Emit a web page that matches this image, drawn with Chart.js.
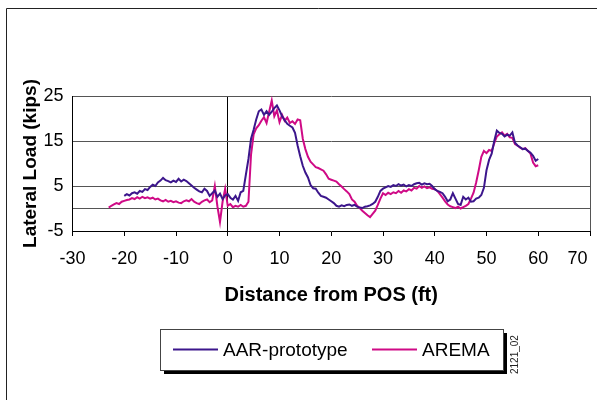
<!DOCTYPE html>
<html>
<head>
<meta charset="utf-8">
<script src="https://cdn.jsdelivr.net/npm/chart.js@4.4.0/dist/chart.umd.min.js"></script>
<style>
    html, body { margin: 0; padding: 0; background: #fff; overflow: hidden; }
</style>
</head>
<body>
<canvas id="lateralChart" width="630" height="400"></canvas>
<script>
// ===========================
// Data
// ===========================

// distance from POS, ft
const distance = [
    -23, -22.5, -22, -21.5, -21, -20.5, -20, -19.5, -19, -18.5,
    -18, -17.5, -17, -16.5, -16, -15.5, -15, -14.5, -14, -13.5,
    -13, -12.5, -12, -11.5, -11, -10.5, -10, -9.5, -9, -8.5,
    -8, -7.5, -7, -6.5, -6, -5.5, -5, -4.5, -4, -3.5,
    -3, -2.5, -2, -1.5, -1, -0.5, 0, 0.5, 1, 1.5,
    2, 2.5, 3, 3.5, 4, 4.5, 5, 5.5, 6, 6.5,
    7, 7.5, 8, 8.5, 9, 9.5, 10, 10.5, 11, 11.5,
    12, 12.5, 13, 13.5, 14, 14.5, 15, 15.5, 16, 16.5,
    17, 17.5, 18, 18.5, 19, 19.5, 20, 20.5, 21, 21.5,
    22, 22.5, 23, 23.5, 24, 24.5, 25, 25.5, 26, 26.5,
    27, 27.5, 28, 28.5, 29, 29.5, 30, 30.5, 31, 31.5,
    32, 32.5, 33, 33.5, 34, 34.5, 35, 35.5, 36, 36.5,
    37, 37.5, 38, 38.5, 39, 39.5, 40, 40.5, 41, 41.5,
    42, 42.5, 43, 43.5, 44, 44.5, 45, 45.5, 46, 46.5,
    47, 47.5, 48, 48.5, 49, 49.5, 50, 50.5, 51, 51.5,
    52, 52.5, 53, 53.5, 54, 54.5, 55, 55.5, 56, 56.5,
    57, 57.5, 58, 58.5, 59, 59.5, 60
];

// lateral load, kips
const aarLoad = [
    null, null, null, null, null, null, 2.8, 3.2, 2.9, 3.4,
    3.6, 3.3, 3.9, 3.7, 4.3, 4.1, 4.8, 5.3, 5.0, 5.8,
    6.2, 6.8, 6.3, 6.1, 5.8, 6.2, 5.9, 6.6, 6.0, 6.4,
    6.1, 5.6, 5.1, 4.6, 4.2, 3.8, 3.6, 4.4, 3.9, 2.8,
    3.4, 4.0, 2.6, 3.3, 2.1, 2.9, 3.2, 2.4, 2.0, 2.8,
    1.7, 3.6, 3.9, 7.5, 11.0, 15.5, 17.5, 19.8, 21.6, 22.0,
    20.8, 21.6, 20.8, 21.5, 22.3, 22.9, 21.8, 20.5, 19.6, 18.8,
    18.4, 18.0, 16.8, 14.0, 11.6, 9.5, 8.0, 6.9, 5.2, 4.5,
    4.4, 3.5, 2.8, 2.6, 2.4, 2.0, 1.6, 1.2, 0.6, 0.4,
    0.7, 0.5, 0.8, 0.9, 0.6, 0.8, 0.4, 0.2, 0.1, 0.4,
    0.5, 0.7, 1.0, 1.5, 2.6, 3.9, 4.4, 4.7, 5.0, 4.8,
    5.2, 5.0, 5.4, 5.1, 5.3, 4.9, 5.2, 5.0, 5.4, 5.6,
    5.7, 5.3, 5.6, 5.4, 5.5, 5.0, 4.3, 3.9, 3.7, 3.4,
    2.6, 1.6, 2.0, 3.4, 2.2, 1.0, 0.8, 2.6, 2.0, 2.4,
    1.5, 1.6, 2.2, 2.4, 3.0, 4.6, 8.5, 10.8, 12.2, 15.0,
    17.3, 16.8, 16.6, 16.0, 16.4, 16.2, 16.9, 14.6, 14.0, 13.6,
    13.2, 13.3, 12.8, 12.4, 11.7, 10.6, 11.0
];

const aremaLoad = [
    0.2, 0.6, 0.9, 1.2, 1.0, 1.5, 1.7, 1.9, 2.0, 2.3,
    2.1, 2.5, 2.2, 2.6, 2.3, 2.5, 2.2, 2.4, 2.0, 2.2,
    1.8, 1.6, 1.9, 1.5, 1.7, 1.4, 1.6, 1.3, 1.2, 1.6,
    1.8, 1.6, 2.1, 1.5, 1.2, 1.0, 1.5, 1.8, 2.0, 1.4,
    1.8, 5.0, 0.5, -3.0, 1.5, 4.4, 0.6, 1.0, 0.3, 0.6,
    0.4, 0.8, 0.4, 0.6, 1.5, 12.0, 16.5, 17.8, 18.5, 19.5,
    20.3, 19.0, 21.5, 24.0, 20.5, 21.8, 19.2, 20.8, 19.5, 20.2,
    19.0, 19.4, 18.8, 19.8, 19.6, 15.5, 13.2, 11.5, 10.4, 9.8,
    9.2, 9.0, 8.7, 8.4, 7.6, 6.6, 6.4, 6.2, 6.0, 5.4,
    4.9, 4.3, 3.8, 3.2, 2.0, 1.5, 0.6, 0.1, -0.5, -1.0,
    -1.5, -1.9, -1.2, -0.5, 0.8, 2.2, 3.4, 3.0, 3.5, 3.2,
    3.6, 3.4, 3.9, 3.5, 4.0, 3.8, 4.3, 4.0, 4.6, 4.4,
    5.0, 4.6, 4.9, 4.5, 4.7, 4.4, 4.3, 3.9, 3.2, 2.4,
    1.6, 0.9, 0.5, 0.3, 0.1, 0.4, 0.0, 0.3, 0.6, 1.0,
    2.2, 3.5, 5.8, 8.5, 11.5, 12.8, 12.3, 13.0, 12.8, 14.5,
    16.0, 16.5, 16.9, 16.2, 16.6, 15.8, 15.7, 14.3, 14.0, 13.5,
    13.2, 13.4, 12.8, 12.2, 10.2, 9.4, 9.6
];

const seriesNames = ['AAR-prototype', 'AREMA'];
const xTicks = [-30, -20, -10, 0, 10, 20, 30, 40, 50, 60, 70];
const yTicks = [-5, 5, 15, 25];

const PURPLE = '#3c168c';
const MAGENTA = '#cf0a86';
const GRID = '#555555';

Chart.defaults.font.family = 'Arial, "Liberation Sans", sans-serif';
Chart.defaults.color = '#000';

// page frame, boxed legend with drop shadow, figure id
const chartDecor = {
    id: 'chartDecor',
    afterDraw(chart) {
        const c = chart.ctx;
        c.save();

        c.strokeStyle = '#222';
        c.lineWidth = 1;
        c.beginPath();
        c.moveTo(6.5, 400);
        c.lineTo(6.5, 8.5);
        c.lineTo(630, 8.5);
        c.stroke();

        const bx = 160, by = 329, bw = 343, bh = 41;
        c.fillStyle = '#000';
        c.fillRect(bx + 4, by + 4, bw, bh);
        c.fillStyle = '#fff';
        c.fillRect(bx, by, bw, bh);
        c.strokeStyle = '#444';
        c.strokeRect(bx + 0.5, by + 0.5, bw, bh);

        const entries = [
            { x1: 173, x2: 218, tx: 223 },
            { x1: 372, x2: 417, tx: 422 }
        ];
        const ly = 349.5;
        c.font = '19px Arial, "Liberation Sans", sans-serif';
        c.textBaseline = 'middle';
        c.textAlign = 'left';
        chart.data.datasets.forEach((ds, i) => {
            const e = entries[i];
            c.strokeStyle = ds.borderColor;
            c.lineWidth = 2;
            c.beginPath();
            c.moveTo(e.x1, ly);
            c.lineTo(e.x2, ly);
            c.stroke();
            c.fillStyle = '#000';
            c.fillText(ds.label, e.tx, ly + 1);
        });

        c.translate(515, 374);
        c.rotate(-Math.PI / 2);
        c.font = '10px Arial, "Liberation Sans", sans-serif';
        c.fillStyle = '#222';
        c.textBaseline = 'middle';
        c.fillText('2121_02', 0, 0);

        c.restore();
    }
};

const ctx = document.getElementById('lateralChart');

new Chart(ctx, {
    type: 'line',
    data: {
        datasets: [
            {
                label: seriesNames[0],
                data: distance.map((d, i) => ({ x: d, y: aarLoad[i] })),
                borderColor: PURPLE,
                borderWidth: 2,
                pointRadius: 0,
                tension: 0
            },
            {
                label: seriesNames[1],
                data: distance.map((d, i) => ({ x: d, y: aremaLoad[i] })),
                borderColor: MAGENTA,
                borderWidth: 2,
                pointRadius: 0,
                tension: 0
            }
        ]
    },
    options: {
        responsive: false,
        animation: false,
        layout: {
            autoPadding: false,
            // canvas is wider than the 597px window; right edge of plot lands at x=590
            padding: { left: 19, right: 40, top: 96, bottom: 92.6 }
        },
        plugins: {
            legend: { display: false },
            tooltip: { enabled: false }
        },
        scales: {
            x: {
                type: 'linear',
                min: -30,
                max: 70,
                afterBuildTicks: (s) => { s.ticks = xTicks.map(v => ({ value: v })); },
                afterFit: (s) => { s.height = 76.4; },
                border: { color: '#000', width: 1 },
                grid: {
                    color: (c) => {
                        const v = c.tick ? c.tick.value : null;
                        if (v === 0) return '#000';
                        if (v === 70) return GRID;
                        return 'rgba(0,0,0,0)';
                    },
                    tickColor: '#000',
                    tickLength: 5,
                    drawTicks: true
                },
                ticks: {
                    padding: 12,
                    maxRotation: 0,
                    autoSkip: false,
                    font: { size: 18 },
                    // last label sits left of its tick, as in the original
                    callback: (v) => v === 70 ? '70     ' : String(v)
                },
                title: {
                    display: true,
                    text: 'Distance from POS (ft)',
                    font: { size: 20, weight: 'bold' },
                    padding: 0
                }
            },
            y: {
                min: -5,
                max: 25,
                afterBuildTicks: (s) => {
                    s.ticks = [...yTicks, 0].sort((a, b) => a - b).map(v => ({ value: v }));
                },
                afterFit: (s) => { s.width = 53.5; },
                border: { color: '#000', width: 1 },
                grid: {
                    color: (c) => (c.tick && c.tick.value === -5) ? 'rgba(0,0,0,0)' : GRID,
                    drawTicks: false
                },
                ticks: {
                    padding: 9,
                    autoSkip: false,
                    font: { size: 18 },
                    callback: (v) => v === 0 ? '' : String(v)
                },
                title: {
                    display: true,
                    text: 'Lateral Load (kips)',
                    font: { size: 19, weight: 'bold' },
                    padding: 0
                }
            }
        }
    },
    plugins: [chartDecor]
});
</script>
</body>
</html>
